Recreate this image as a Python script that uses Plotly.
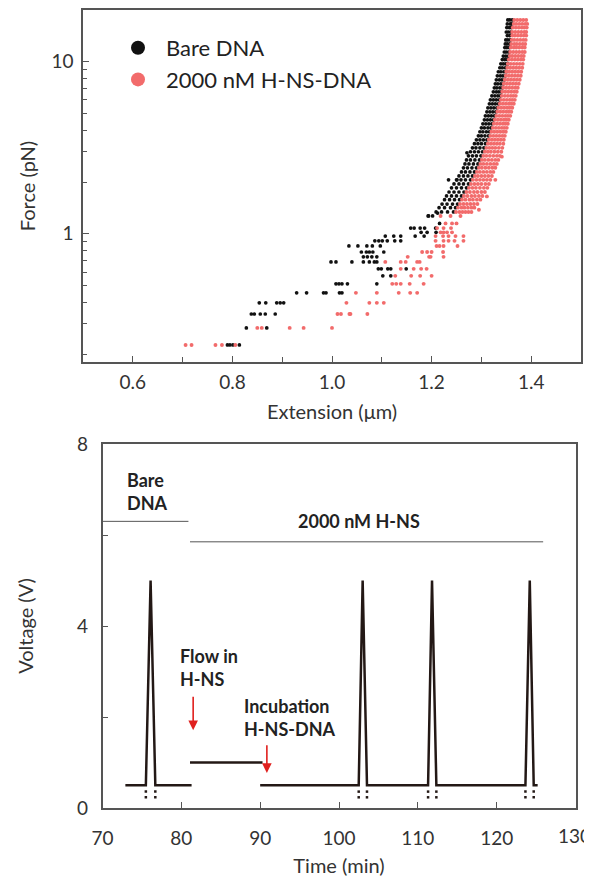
import plotly.graph_objects as go

# ---------------- Panel A: force vs extension ----------------
band_force = [17.5, 16.6, 15.8, 14.9, 14.2, 13.4, 12.7, 12.1, 11.4, 10.8, 10.3, 9.73,
              9.23, 8.75, 8.29, 7.86, 7.45, 7.06, 6.69, 6.34, 6.01, 5.70, 5.40, 5.12,
              4.85, 4.60, 4.36, 4.13, 3.92, 3.71, 3.52, 3.34, 3.16, 3.00, 2.84, 2.69,
              2.55, 2.42, 2.29, 2.17, 2.06, 1.95, 1.85, 1.75, 1.66, 1.58, 1.49, 1.42, 1.34]

bare_band_ext = [
    [1.353, 1.357, 1.362], [1.352, 1.358, 1.361], [1.351, 1.356, 1.360], [1.350, 1.354, 1.359],
    [1.352, 1.357], [1.349, 1.353, 1.358], [1.348, 1.352, 1.357], [1.347, 1.351, 1.356],
    [1.346, 1.350, 1.355], [1.344, 1.349, 1.354], [1.342, 1.347, 1.352], [1.339, 1.344, 1.349, 1.353],
    [1.337, 1.342, 1.348], [1.334, 1.339, 1.345, 1.350], [1.332, 1.338, 1.343, 1.348], [1.330, 1.336, 1.341, 1.346],
    [1.328, 1.333, 1.339, 1.344], [1.326, 1.331, 1.337, 1.342], [1.324, 1.330, 1.335, 1.340], [1.321, 1.327, 1.333, 1.338],
    [1.318, 1.324, 1.330, 1.336], [1.316, 1.322, 1.328, 1.334], [1.313, 1.319, 1.325, 1.331], [1.311, 1.317, 1.323, 1.329],
    [1.308, 1.314, 1.320, 1.326], [1.306, 1.312, 1.318, 1.324], [1.303, 1.309, 1.315, 1.321], [1.300, 1.306, 1.313, 1.319],
    [1.297, 1.303, 1.310, 1.316], [1.294, 1.300, 1.307, 1.314], [1.290, 1.297, 1.304, 1.311], [1.286, 1.293, 1.300, 1.308],
    [1.282, 1.289, 1.297, 1.305], [1.278, 1.286, 1.294, 1.302], [1.274, 1.282, 1.290, 1.299], [1.270, 1.278, 1.287, 1.296],
    [1.267, 1.275, 1.284, 1.293], [1.264, 1.272, 1.281, 1.290], [1.260, 1.268, 1.277, 1.286], [1.255, 1.264, 1.273, 1.282],
    [1.250, 1.259, 1.268, 1.278], [1.245, 1.255, 1.264, 1.274], [1.240, 1.250, 1.260, 1.270], [1.235, 1.245, 1.255, 1.265],
    [1.230, 1.240, 1.250, 1.260], [1.226, 1.236, 1.246, 1.256], [1.221, 1.231, 1.242, 1.252], [1.215, 1.226, 1.238, 1.248],
    [1.209, 1.220, 1.232, 1.244]]

hns_band_ext = [
    [1.366, 1.372, 1.378, 1.384, 1.390], [1.365, 1.370, 1.376, 1.382, 1.388, 1.392],
    [1.363, 1.369, 1.375, 1.381, 1.386, 1.391], [1.362, 1.368, 1.374, 1.380, 1.386, 1.390],
    [1.362, 1.367, 1.373, 1.379, 1.385, 1.390], [1.361, 1.366, 1.372, 1.378, 1.384, 1.389],
    [1.360, 1.366, 1.371, 1.377, 1.383, 1.388], [1.359, 1.365, 1.370, 1.376, 1.382, 1.387],
    [1.358, 1.364, 1.370, 1.376, 1.382, 1.387], [1.357, 1.362, 1.368, 1.374, 1.380, 1.385],
    [1.355, 1.361, 1.367, 1.373, 1.379, 1.384], [1.353, 1.359, 1.365, 1.371, 1.377, 1.383],
    [1.352, 1.358, 1.364, 1.370, 1.376, 1.382], [1.350, 1.356, 1.362, 1.368, 1.374, 1.380],
    [1.349, 1.355, 1.361, 1.367, 1.373, 1.379], [1.347, 1.353, 1.359, 1.365, 1.371, 1.377],
    [1.345, 1.351, 1.357, 1.363, 1.369, 1.375], [1.344, 1.350, 1.356, 1.362, 1.368, 1.373],
    [1.342, 1.348, 1.354, 1.360, 1.366, 1.371], [1.341, 1.347, 1.353, 1.359, 1.364, 1.369],
    [1.339, 1.345, 1.351, 1.357, 1.362, 1.367], [1.337, 1.343, 1.349, 1.355, 1.360, 1.365],
    [1.334, 1.340, 1.346, 1.352, 1.357, 1.362], [1.332, 1.338, 1.344, 1.350, 1.355, 1.360],
    [1.330, 1.336, 1.342, 1.348, 1.353, 1.358], [1.327, 1.333, 1.339, 1.345, 1.350, 1.355],
    [1.325, 1.331, 1.337, 1.343, 1.348, 1.353], [1.323, 1.329, 1.335, 1.341, 1.346, 1.351],
    [1.320, 1.326, 1.332, 1.338, 1.344, 1.349], [1.318, 1.324, 1.330, 1.336, 1.342, 1.347],
    [1.315, 1.321, 1.327, 1.333, 1.339, 1.345], [1.313, 1.319, 1.325, 1.331, 1.337, 1.344],
    [1.310, 1.316, 1.322, 1.328, 1.335, 1.342], [1.307, 1.313, 1.319, 1.326, 1.333, 1.340],
    [1.304, 1.310, 1.317, 1.324, 1.331, 1.337], [1.301, 1.307, 1.314, 1.321, 1.328, 1.334],
    [1.298, 1.304, 1.311, 1.318, 1.325, 1.331], [1.295, 1.301, 1.308, 1.315, 1.322, 1.328],
    [1.291, 1.297, 1.304, 1.311, 1.318, 1.324], [1.287, 1.293, 1.300, 1.307, 1.314, 1.321],
    [1.283, 1.290, 1.297, 1.304, 1.311, 1.318], [1.279, 1.286, 1.293, 1.300, 1.308, 1.315],
    [1.275, 1.282, 1.289, 1.297, 1.305, 1.312], [1.270, 1.277, 1.285, 1.292, 1.300, 1.307],
    [1.265, 1.272, 1.280, 1.287, 1.295, 1.302], [1.261, 1.268, 1.276, 1.283, 1.291, 1.298],
    [1.257, 1.264, 1.271, 1.278, 1.285, 1.292], [1.253, 1.260, 1.266, 1.273, 1.280, 1.286],
    [1.249, 1.256, 1.262, 1.268, 1.274, 1.280]]

sparse_force = [1.32, 1.27, 1.15, 1.08, 1.02, 0.97, 0.91, 0.85, 0.784, 0.735, 0.687,
                0.626, 0.57, 0.512, 0.454, 0.397, 0.342, 0.284, 0.226]
bare_sparse_ext = [
    [1.212], [1.193, 1.202], [1.216], [1.158, 1.165, 1.177, 1.186, 1.208],
    [1.179, 1.191, 1.209], [1.107, 1.124, 1.138, 1.167, 1.185],
    [1.086, 1.094, 1.101, 1.111, 1.126, 1.138], [1.034, 1.052, 1.070, 1.081, 1.097],
    [1.059, 1.069, 1.075, 1.082, 1.104], [1.063, 1.071, 1.080, 1.090],
    [0.998, 1.008, 1.040, 1.063, 1.075, 1.085, 1.090], [1.093, 1.099, 1.112, 1.118, 1.149],
    [1.102, 1.118], [1.008, 1.014, 1.020, 1.031, 1.090],
    [0.929, 0.949, 0.983, 0.988, 1.015, 1.020], [0.854, 0.867, 0.889, 0.896, 0.903],
    [0.838, 0.844, 0.856, 0.866, 0.886], [0.828, 0.869], [0.790, 0.795, 0.801, 0.814]]
hns_sparse_ext = [
    [], [1.218, 1.238, 1.258], [1.228, 1.241, 1.250], [1.211, 1.224, 1.239],
    [1.218, 1.224, 1.231, 1.241], [1.208, 1.223, 1.234, 1.248, 1.264],
    [1.208, 1.224, 1.234, 1.246, 1.264], [1.210, 1.216, 1.224, 1.252],
    [1.181, 1.191, 1.200, 1.223], [1.152, 1.195, 1.198, 1.224],
    [1.107, 1.138, 1.148, 1.171, 1.176], [1.138, 1.164, 1.179, 1.190],
    [1.127, 1.159, 1.177, 1.200], [1.121, 1.129, 1.138, 1.156, 1.184],
    [1.048, 1.090, 1.134, 1.157, 1.171], [1.029, 1.075, 1.090, 1.104],
    [1.011, 1.018, 1.035, 1.037, 1.071], [0.850, 0.859, 0.915, 0.943, 1.000],
    [0.706, 0.718, 0.766, 0.779, 0.806]]

bare_outlier_force = [2.06, 2.06, 2.96, 1.27]
bare_outlier_ext = [1.234, 1.251, 1.271, 1.194]
hns_outlier_force = [2.81, 2.06, 1.65, 1.38]
hns_outlier_ext = [1.341, 1.328, 1.311, 1.295]

ext_ticks = [0.6, 0.8, 1.0, 1.2, 1.4]
ext_minor = [0.7, 0.9, 1.1, 1.3]
force_ticks = [1, 10]
force_minor = [0.2, 0.3, 0.4, 0.5, 0.6, 0.7, 0.8, 0.9, 2, 3, 4, 5, 6, 7, 8, 9]

# ---------------- Panel B: voltage vs time ----------------
t_base1 = [72.9, 75.5, 76.1, 76.7, 81.3]
v_base1 = [0.5, 0.5, 5.0, 0.5, 0.5]
t_flow = [81.1, 90.3]
v_flow = [1.0, 1.0]
t_base2 = [90.0, 102.5, 103.0, 103.55, 111.3, 111.8, 112.35, 123.65, 124.2, 124.7, 125.2]
v_base2 = [0.5, 0.5, 5.0, 0.5, 0.5, 5.0, 0.5, 0.5, 5.0, 0.5, 0.5]
t_breaks = [75.5, 76.7, 102.5, 103.55, 111.3, 112.35, 123.65, 124.7]
v_breaks = [0.36, 0.235]
t_bare_phase = [70.0, 80.9]
v_bare_phase = [6.3, 6.3]
t_hns_phase = [81.1, 125.9]
v_hns_phase = [5.85, 5.85]
time_ticks = [70, 80, 90, 100, 110, 120, 130]
volt_ticks = [0, 2, 4, 6, 8]
volt_labels = ["0", "", "4", "", "8"]

BLACK = "#111111"
RED = "#f26b6b"
LINE = "#231815"
TXT = "#333333"
FONT = "Lato"

# page has an 8px body margin on every side; keep the figure inside the 592x885 window
W, H, OFF = 584, 869, 8


def fx(p):
    return (p - OFF) / W


def fy(p):
    return 1 - (p - OFF) / H


def flatten(forces, rows):
    xs, ys = [], []
    for f, row in zip(forces, rows):
        for e in row:
            xs.append(e)
            ys.append(f)
    return xs, ys


bx1, by1 = flatten(band_force, bare_band_ext)
bx2, by2 = flatten(sparse_force, bare_sparse_ext)
hx1, hy1 = flatten(band_force, hns_band_ext)
hx2, hy2 = flatten(sparse_force, hns_sparse_ext)
bare_x = bx1 + bx2 + bare_outlier_ext
bare_y = by1 + by2 + bare_outlier_force
hns_x = hx1 + hx2 + hns_outlier_ext
hns_y = hy1 + hy2 + hns_outlier_force

fig = go.Figure()
fig.add_trace(go.Scatter(x=bare_x, y=bare_y, mode="markers", xaxis="x", yaxis="y",
                         marker=dict(size=3.7, color=BLACK), showlegend=False))
fig.add_trace(go.Scatter(x=hns_x, y=hns_y, mode="markers", xaxis="x", yaxis="y",
                         marker=dict(size=3.9, color=RED), showlegend=False))
fig.add_trace(go.Scatter(x=[None], y=[None], mode="markers", name="Bare DNA",
                         xaxis="x", yaxis="y", marker=dict(size=14, color=BLACK)))
fig.add_trace(go.Scatter(x=[None], y=[None], mode="markers", name="2000 nM H-NS-DNA",
                         xaxis="x", yaxis="y", marker=dict(size=14, color=RED)))

# panel B traces
fig.add_trace(go.Scatter(x=t_bare_phase, y=v_bare_phase, mode="lines", xaxis="x2", yaxis="y2",
                         line=dict(color="#555555", width=1), showlegend=False))
fig.add_trace(go.Scatter(x=t_hns_phase, y=v_hns_phase, mode="lines", xaxis="x2", yaxis="y2",
                         line=dict(color="#555555", width=1), showlegend=False))
for tt, vv in [(t_base1, v_base1), (t_flow, v_flow), (t_base2, v_base2)]:
    fig.add_trace(go.Scatter(x=tt, y=vv, mode="lines", xaxis="x2", yaxis="y2",
                             line=dict(color=LINE, width=2.5), showlegend=False))
bt, bv = [], []
for t in t_breaks:
    for v in v_breaks:
        bt.append(t)
        bv.append(v)
fig.add_trace(go.Scatter(x=bt, y=bv, mode="markers", xaxis="x2", yaxis="y2",
                         marker=dict(symbol="square", size=2.5, color=LINE), showlegend=False))

axis_common = dict(showline=True, linecolor="#555555", linewidth=1.5, mirror=True,
                   ticks="inside", tickcolor="#555555", ticklen=6, tickwidth=1,
                   showgrid=False, zeroline=False,
                   tickfont=dict(family=FONT, size=19, color=TXT), automargin=False)

# last time label sits at the page edge: keep it as right-anchored text so it is not clipped
time_labels = [str(t) for t in time_ticks[:-1]] + [""]

fig.update_layout(
    width=W, height=H, template="none",
    margin=dict(l=0, r=0, t=0, b=0),
    paper_bgcolor="white", plot_bgcolor="white",
    font=dict(family=FONT, color=TXT),
    xaxis=dict(domain=[fx(83), fx(581)], range=[0.5, 1.5],
               tickvals=ext_ticks, ticktext=["0.6", "0.8", "1.0", "1.2", "1.4"],
               minor=dict(tickvals=ext_minor, ticks="inside", ticklen=5, tickcolor="#555555"),
               title=dict(text="Extension (μm)", font=dict(family=FONT, size=20, color=TXT), standoff=13),
               ticklabelstandoff=2, anchor="y", **axis_common),
    yaxis=dict(domain=[fy(362), fy(10)], type="log", range=[-0.745, 1.301],
               tickvals=force_ticks, ticktext=["1", "10"],
               minor=dict(tickvals=force_minor, ticks="inside", ticklen=4, tickcolor="#555555"),
               title=dict(text="Force (pN)", font=dict(family=FONT, size=20, color=TXT), standoff=10),
               ticklabelstandoff=4, anchor="x", **axis_common),
    xaxis2=dict(domain=[fx(102.5), fx(575.5)], range=[69.999, 130.001], tickvals=time_ticks,
                ticktext=time_labels,
                title=dict(text="Time (min)", font=dict(family=FONT, size=20, color=TXT), standoff=12),
                ticklabelstandoff=12, anchor="y2", **axis_common),
    yaxis2=dict(domain=[fy(808), fy(444)], range=[0, 8], tickvals=volt_ticks,
                ticktext=volt_labels,
                title=dict(text="Voltage (V)", font=dict(family=FONT, size=20, color=TXT), standoff=38),
                ticklabelstandoff=9, anchor="x2", **axis_common),
    legend=dict(x=102 / W, y=fy(27), xanchor="left", yanchor="top",
                font=dict(family=FONT, size=22, color="#222222"), bgcolor="rgba(0,0,0,0)",
                tracegroupgap=0, itemsizing="trace", itemwidth=46),
)

fig.add_annotation(x=1.0, y=fy(835), xref="paper", yref="paper", text=str(time_ticks[-1]),
                   showarrow=False, xanchor="right", yanchor="middle", borderpad=0,
                   font=dict(family=FONT, size=19, color=TXT))

ann_font = dict(family=FONT, size=18, color="#222222")
fig.add_annotation(x=72.9, y=6.96, xref="x2", yref="y2", text="<b>Bare<br>DNA</b>",
                   showarrow=False, xanchor="left", yanchor="middle", align="left", font=ann_font)
fig.add_annotation(x=102.5, y=6.31, xref="x2", yref="y2", text="<b>2000 nM H-NS</b>",
                   showarrow=False, xanchor="center", yanchor="middle", font=ann_font)
fig.add_annotation(x=79.6, y=3.09, xref="x2", yref="y2", text="<b>Flow in<br>H-NS</b>",
                   showarrow=False, xanchor="left", yanchor="middle", align="left", font=ann_font)
fig.add_annotation(x=87.7, y=2.0, xref="x2", yref="y2", text="<b>Incubation<br>H-NS-DNA</b>",
                   showarrow=False, xanchor="left", yanchor="middle", align="left", font=ann_font)
# red arrows
fig.add_annotation(x=81.5, y=1.71, ax=81.5, ay=2.48, xref="x2", yref="y2", axref="x2", ayref="y2",
                   text="", showarrow=True, arrowhead=2, arrowsize=1.2, arrowwidth=1.6, arrowcolor="#e0201e")
fig.add_annotation(x=90.85, y=0.77, ax=90.85, ay=1.41, xref="x2", yref="y2", axref="x2", ayref="y2",
                   text="", showarrow=True, arrowhead=2, arrowsize=1.2, arrowwidth=1.6, arrowcolor="#e0201e")

fig.write_html("out.html")
